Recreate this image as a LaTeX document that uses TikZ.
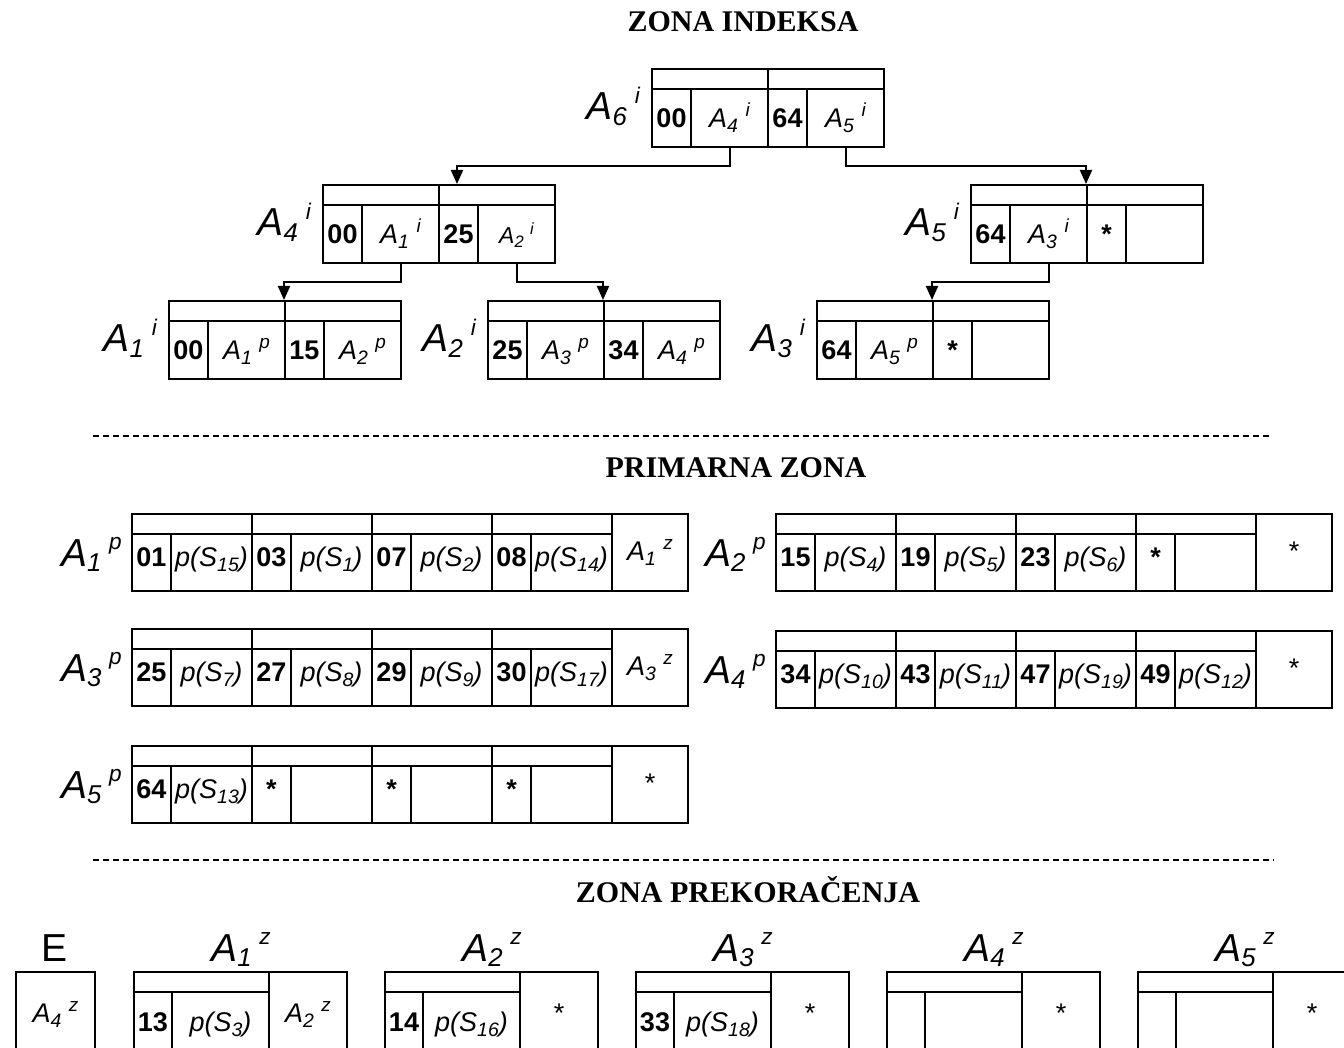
\documentclass[tikz,border=0pt]{standalone}
\usepackage{graphicx}
\usepackage{fontspec}
\setmainfont{Liberation Sans}
\newfontfamily\ttlfont{Liberation Serif}
\usetikzlibrary{arrows.meta,calc}

% inner label A_x ^y
\newcommand\Lb[3]{\textit{#1\raisebox{-0.18em}{\scalebox{0.72}{#2}}\hspace{0.28em}\raisebox{0.4em}{\scalebox{0.7}{#3}}}}
% outer label
\newcommand\Lo[3]{\textit{#1\raisebox{-0.15em}{\scalebox{0.66}{#2}}\hspace{0.2em}\raisebox{0.42em}{\scalebox{0.58}{#3}}}}
\newcommand\pS[1]{\textit{p(S\raisebox{-0.2em}{\scalebox{0.72}{#1}})}}

\tikzset{
 cell/.style={draw, line width=2pt, inner sep=0pt, anchor=north west, font=\fontsize{27}{31}\selectfont, text height=19pt, text depth=0pt},
 keyc/.style={cell, font=\bfseries\fontsize{27}{31}\selectfont},
 pcell/.style={text height=15pt, text depth=7pt},
 outl/.style={font=\fontsize{39}{44}\selectfont, inner sep=0pt},
 arr/.style={line width=2pt, -{Triangle[length=14pt,width=12pt]}},
 ttl/.style={font=\ttlfont\bfseries\fontsize{30}{34}\selectfont, anchor=base, inner sep=0pt},
 zsep/.style={line width=1.4pt, dash pattern=on 6pt off 4pt},
}

% index node: name, x, y, k1, p1, k2, p2, label
\newcommand\idx[8]{%
 \node[cell, minimum width=116pt, minimum height=20pt] (#1-t1) at (#2,#3) {};
 \node[cell, minimum width=116pt, minimum height=20pt] (#1-t2) at (#2+116,#3) {};
 \node[keyc, minimum width=39pt, minimum height=58pt] (#1-k1) at (#2,#3+20) {#4};
 \node[cell, minimum width=77pt, minimum height=58pt] (#1-p1) at (#2+39,#3+20) {#5};
 \node[keyc, minimum width=39pt, minimum height=58pt] (#1-k2) at (#2+116,#3+20) {#6};
 \node[cell, minimum width=77pt, minimum height=58pt] (#1-p2) at (#2+155,#3+20) {#7};
 \node[outl, anchor=base east] (#1-lab) at (#2-11,#3+52) {#8};
}

% primary block: name, x, y, label, last, pairs
\newcommand\prim[6]{%
 \foreach \kk/\pp [count=\ii from 0] in {#6}{
   \node[cell, minimum width=120pt, minimum height=20pt] (#1-t\ii) at (#2+120*\ii,#3) {};
   \node[keyc, pcell, minimum width=39pt, minimum height=57pt] (#1-k\ii) at (#2+120*\ii,#3+20) {\kk};
   \node[cell, pcell, minimum width=81pt, minimum height=57pt] (#1-p\ii) at (#2+120*\ii+39,#3+20) {\pp};
 }
 \node[cell, minimum width=76pt, minimum height=77pt, text height=16pt] (#1-z) at (#2+480,#3) {#5};
 \node[outl, anchor=base east] (#1-lab) at (#2-9,#3+53) {#4};
}

% overflow block: name, x, label, key, pointer, last
\newcommand\ovf[6]{%
 \node[cell, minimum width=135pt, minimum height=20pt] (#1-t) at (#2,971) {};
 \node[keyc, minimum width=38pt, minimum height=60pt] (#1-k) at (#2,991) {#4};
 \node[cell, minimum width=97pt, minimum height=60pt] (#1-p) at (#2+38,991) {#5};
 \node[cell, minimum width=78pt, minimum height=80pt, text height=21pt] (#1-z) at (#2+135,971) {#6};
 \node[outl, anchor=base] (#1-lab) at (#2+108,961) {#3};
}

\begin{document}
\begin{tikzpicture}[x=1pt,y=-1pt]
\fill[white] (0,0) rectangle (1344,1048);
\useasboundingbox (0,0) rectangle (1344,1048);

% titles
\node[ttl] (t1) at (743,32) {ZONA INDEKSA};
\node[ttl] (t2) at (736,477) {PRIMARNA ZONA};
\node[ttl] (t3) at (748,902) {ZONA PREKORAČENJA};

% index zone
\idx{A6}{651}{68}{00}{\Lb{A}{4}{i}}{64}{\Lb{A}{5}{i}}{\Lo{A}{6}{i}}
\idx{A4}{322}{184}{00}{\Lb{A}{1}{i}}{25}{{\fontsize{23}{27}\selectfont\Lb{A}{2}{i}}}{\Lo{A}{4}{i}}
\idx{A5}{970}{184}{64}{\Lb{A}{3}{i}}{*}{}{\Lo{A}{5}{i}}
\idx{A1}{168}{300}{00}{\Lb{A}{1}{p}}{15}{\Lb{A}{2}{p}}{\Lo{A}{1}{i}}
\idx{A2}{487}{300}{25}{\Lb{A}{3}{p}}{34}{\Lb{A}{4}{p}}{\Lo{A}{2}{i}}
\idx{A3}{816}{300}{64}{\Lb{A}{5}{p}}{*}{}{\Lo{A}{3}{i}}

\draw[arr] (A6-p1.south) -- ++(0,18) -| ($(A4-t2.north west)+(19,0)$);
\draw[arr] (A6-p2.south) -- ++(0,18) -| (A5-t2.north west);
\draw[arr] (A4-p1.south) -- ++(0,18) -| (A1-t2.north west);
\draw[arr] (A4-p2.south) -- ++(0,18) -| (A2-t2.north west);
\draw[arr] (A5-p1.south) -- ++(0,18) -| (A3-t2.north west);

\draw[zsep] (93,436) -- (1271,436);

% primary zone
\prim{P1}{131}{513}{\Lo{A}{1}{p}}{\Lb{A}{1}{z}}{01/\pS{15}, 03/\pS{1}, 07/\pS{2}, 08/\pS{14}}
\prim{P2}{775}{513}{\Lo{A}{2}{p}}{*}{15/\pS{4}, 19/\pS{5}, 23/\pS{6}, */{}}
\prim{P3}{131}{628}{\Lo{A}{3}{p}}{\Lb{A}{3}{z}}{25/\pS{7}, 27/\pS{8}, 29/\pS{9}, 30/\pS{17}}
\prim{P4}{775}{630}{\Lo{A}{4}{p}}{*}{34/\pS{10}, 43/\pS{11}, 47/\pS{19}, 49/\pS{12}}
\prim{P5}{131}{745}{\Lo{A}{5}{p}}{*}{64/\pS{13}, */{}, */{}, */{}}

\draw[zsep] (93,860) -- (1274,860);

% overflow zone
\node[cell, minimum width=79pt, minimum height=80pt, text height=21pt] (E) at (15,971) {\Lb{A}{4}{z}};
\node[outl, anchor=base] (E-lab) at (54.5,961) {E};
\ovf{Z1}{133}{\Lo{A}{1}{z}}{13}{\pS{3}}{\Lb{A}{2}{z}}
\ovf{Z2}{384}{\Lo{A}{2}{z}}{14}{\pS{16}}{*}
\ovf{Z3}{635}{\Lo{A}{3}{z}}{33}{\pS{18}}{*}
\ovf{Z4}{886}{\Lo{A}{4}{z}}{}{}{*}
\ovf{Z5}{1137}{\Lo{A}{5}{z}}{}{}{*}
\end{tikzpicture}
\end{document}
